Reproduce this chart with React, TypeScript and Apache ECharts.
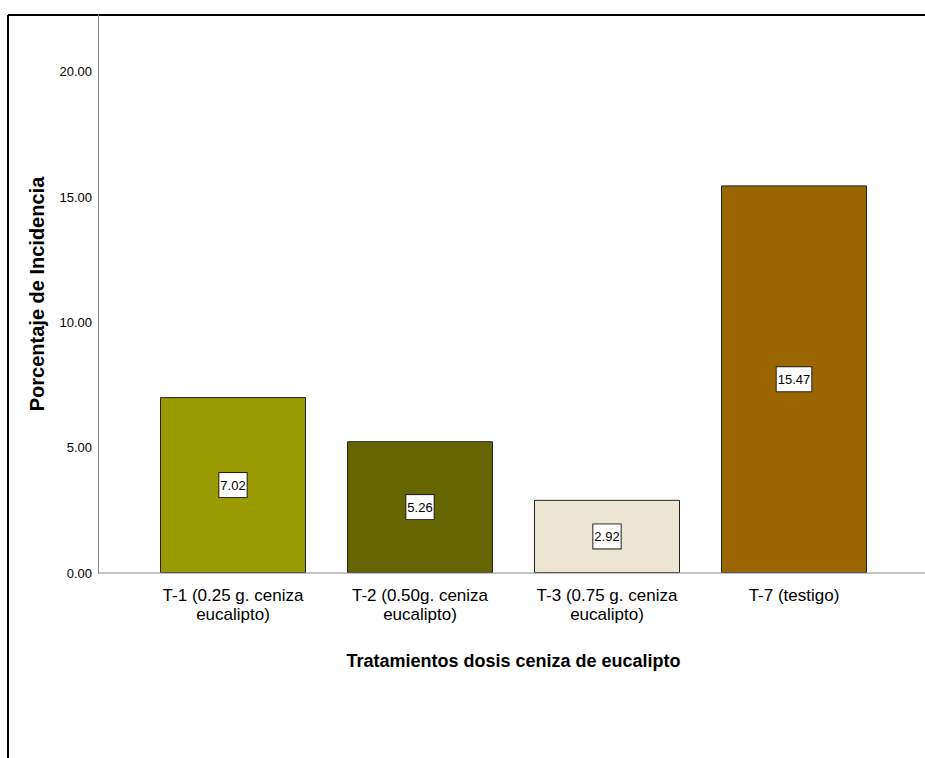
import React, { useEffect, useRef } from "react";
import * as echarts from "echarts";

const categories = [
  "T-1 (0.25 g. ceniza\neucalipto)",
  "T-2 (0.50g. ceniza\neucalipto)",
  "T-3 (0.75 g. ceniza\neucalipto)",
  "T-7 (testigo)",
];
const values = [7.02, 5.26, 2.92, 15.47];
const barColors = ["#999900", "#666600", "#ECE6D2", "#996600"];
const yTicks = [0, 5, 10, 15, 20];

const NARROW = "'Liberation Sans Narrow', 'Arial Narrow', 'Liberation Sans', Arial, sans-serif";
const SANS = "'Liberation Sans', Arial, sans-serif";

export default function App() {
  const ref = useRef<HTMLDivElement>(null);
  useEffect(() => {
    if (!ref.current) return;
    const chart = echarts.init(ref.current, undefined, { renderer: "svg" });
    chart.setOption({
      animation: false,
      backgroundColor: "#ffffff",
      grid: { left: 139.5, right: 37.5, top: 15, bottom: 185, containLabel: false },
      xAxis: {
        type: "category",
        data: categories,
        axisLine: { show: false },
        axisTick: { show: false },
        axisLabel: {
          color: "#000",
          fontFamily: NARROW,
          fontSize: 17,
          lineHeight: 19,
          margin: 13,
          interval: 0,
        },
        name: "Tratamientos dosis ceniza de eucalipto",
        nameLocation: "middle",
        nameGap: 79,
        nameTextStyle: { color: "#000", fontFamily: SANS, fontWeight: "bold", fontSize: 18 },
      },
      yAxis: {
        type: "value",
        min: 0,
        max: 22.27,
        interval: 5,
        offset: 41.5,
        splitLine: { show: false },
        axisTick: { show: false },
        axisLine: { show: true, lineStyle: { color: "#888", width: 1 } },
        axisLabel: {
          showMaxLabel: false,
          color: "#000",
          fontFamily: NARROW,
          fontSize: 13,
          margin: 6,
          formatter: (v: number) => (yTicks.includes(v) ? v.toFixed(2) : ""),
        },
        name: "Porcentaje de Incidencia",
        nameLocation: "middle",
        nameGap: 51,
        nameTextStyle: { color: "#000", fontFamily: SANS, fontWeight: "bold", fontSize: 20 },
      },
      series: [
        {
          type: "bar",
          barWidth: 146,
          data: values.map((v, i) => ({
            value: v,
            itemStyle: { color: barColors[i], borderColor: "#222", borderWidth: 1 },
          })),
          label: {
            show: true,
            position: "inside",
            formatter: (p: any) => Number(p.value).toFixed(2),
            color: "#000",
            fontFamily: NARROW,
            fontSize: 13,
            backgroundColor: "#fff",
            borderColor: "#222",
            borderWidth: 1,
            padding: [6, 1, 5, 1],
          },
        },
      ],
      graphic: [
        { type: "line", shape: { x1: 98, y1: 573, x2: 925, y2: 573 }, style: { stroke: "#888", lineWidth: 1 }, z: 10 },
        { type: "line", shape: { x1: 8, y1: 15, x2: 925, y2: 15 }, style: { stroke: "#000", lineWidth: 2 } },
        { type: "line", shape: { x1: 8, y1: 15, x2: 8, y2: 758 }, style: { stroke: "#000", lineWidth: 2 } },
      ],
    });
    return () => chart.dispose();
  }, []);
  return (
    <div
      ref={ref}
      style={{ position: "fixed", left: 0, top: 0, width: 925, height: 758 }}
    />
  );
}
